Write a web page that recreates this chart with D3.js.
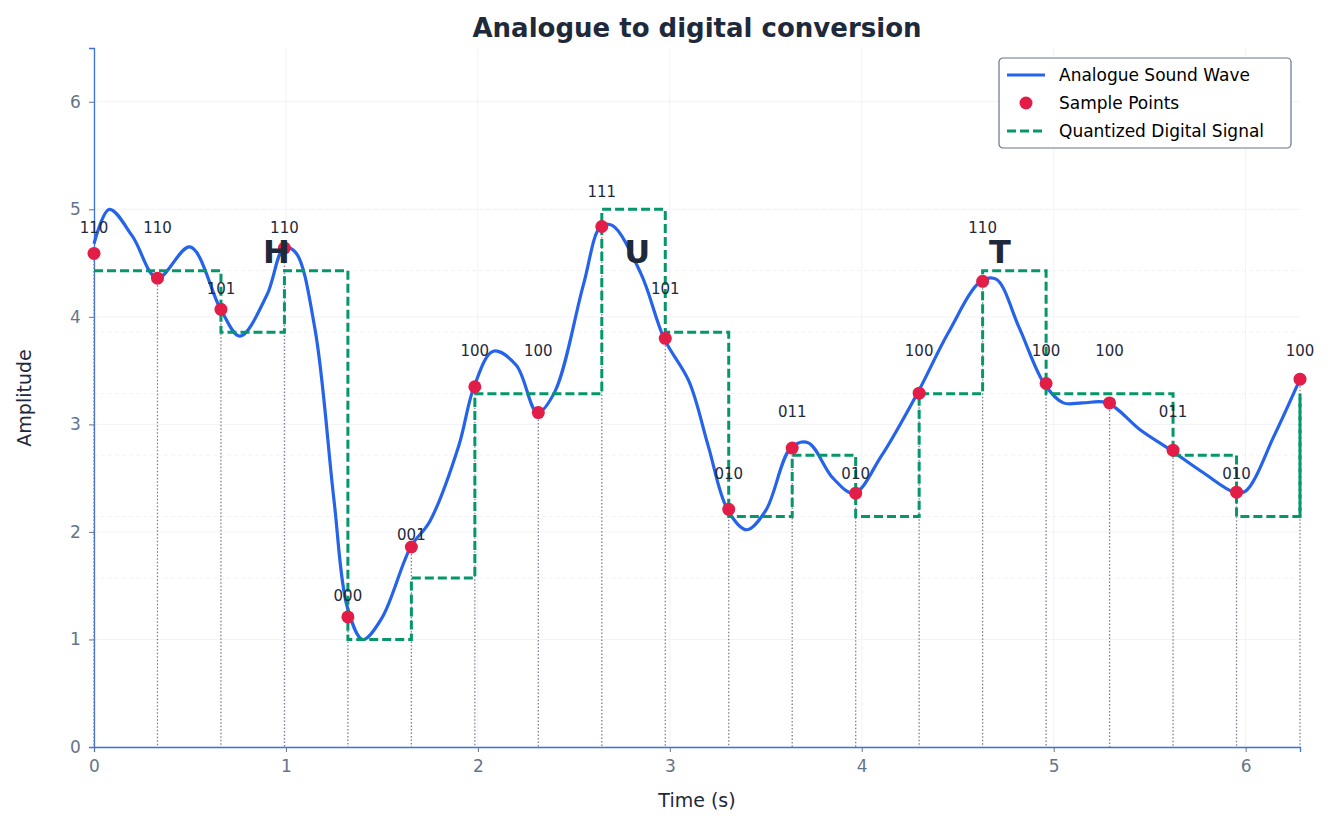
<!DOCTYPE html>
<html><head><meta charset="utf-8">
<script src="https://cdn.jsdelivr.net/npm/d3@7/dist/d3.min.js"></script>
<style>body{margin:0;background:#fff;font-family:"DejaVu Sans",sans-serif}</style>
</head><body><svg id="c" width="1332" height="825"></svg>
<script>
const sampleT = [0,0.3307,0.6614,0.9921,1.3228,1.6535,1.9842,2.3149,2.6456,2.9763,3.3069,3.6376,3.9683,4.299,4.6297,4.9604,5.2911,5.6218,5.9525,6.2832];
const sampleV = [4.59,4.36,4.07,4.64,1.21,1.86,3.35,3.11,4.84,3.80,2.21,2.78,2.36,3.29,4.33,3.38,3.20,2.76,2.37,3.42];
const codes = ["110","110","101","110","000","001","100","100","111","101","010","011","010","100","110","100","100","011","010","100"];
const levels = [1.0,1.571,2.143,2.714,3.286,3.857,4.429,5.0];
const waveT = [0,0.08,0.2,0.33,0.5,0.66,0.76,0.9,0.99,1.05,1.15,1.25,1.32,1.4,1.5,1.65,1.75,1.9,1.98,2.08,2.2,2.31,2.4,2.55,2.64,2.7,2.85,2.97,3.1,3.2,3.3,3.4,3.5,3.63,3.72,3.85,3.96,4.1,4.29,4.45,4.62,4.7,4.82,4.95,5.05,5.15,5.28,5.45,5.61,5.78,5.94,6.0,6.15,6.2832];
const waveV = [4.68,5.0,4.75,4.36,4.65,4.07,3.82,4.2,4.64,4.6,3.9,2.3,1.3,1.0,1.2,1.86,2.1,2.8,3.35,3.68,3.55,3.11,3.3,4.3,4.84,4.85,4.4,3.80,3.4,2.8,2.21,2.02,2.2,2.78,2.83,2.5,2.36,2.7,3.29,3.85,4.33,4.35,3.9,3.38,3.2,3.2,3.20,2.95,2.76,2.55,2.37,2.38,2.9,3.42];
const letters = [{t:0.95,l:"H"},{t:2.83,l:"U"},{t:4.72,l:"T"}];
const xTicks=[0,1,2,3,4,5,6], yTicks=[0,1,2,3,4,5,6];

const svg=d3.select("#c");
const m={l:94,r:32,t:48,b:78};
const W=1332,H=825;
const x=d3.scaleLinear().domain([0,2*Math.PI]).range([m.l,W-m.r]);
const y=d3.scaleLinear().domain([0,6.5]).range([H-m.b,m.t]);

svg.append("g").selectAll("line").data(xTicks).join("line")
 .attr("x1",d=>x(d)).attr("x2",d=>x(d)).attr("y1",y(0)).attr("y2",y(6.5)).attr("stroke","#f1f3f7");
svg.append("g").selectAll("line").data(yTicks).join("line")
 .attr("x1",x(0)).attr("x2",x(2*Math.PI)).attr("y1",d=>y(d)).attr("y2",d=>y(d)).attr("stroke","#f1f3f7");
svg.append("g").selectAll("line").data(levels).join("line")
 .attr("x1",x(0)).attr("x2",x(2*Math.PI)).attr("y1",d=>y(d)).attr("y2",d=>y(d)).attr("stroke","#f1f3f7").attr("stroke-dasharray","4,3");

const xa=svg.append("g").attr("transform",`translate(0,${y(0)})`).call(d3.axisBottom(x).tickValues(xTicks).tickSize(5).tickFormat(d3.format("d")));
const ya=svg.append("g").attr("transform",`translate(${x(0)},0)`).call(d3.axisLeft(y).tickValues(yTicks).tickSize(5).tickFormat(d3.format("d")));
[xa,ya].forEach(a=>{a.select(".domain").attr("stroke","#3b73d9").attr("stroke-width",1.3);
 a.selectAll(".tick line").attr("stroke","#64748b");
 a.selectAll("text").attr("fill","#64748b").attr("font-size",17).attr("font-family","DejaVu Sans");});
xa.selectAll("text").attr("dy","1em");
ya.selectAll("text").attr("dx","-0.3em");

svg.append("g").selectAll("line").data(sampleT).join("line")
 .attr("x1",d=>x(d)).attr("x2",d=>x(d)).attr("y1",(d,i)=>y(sampleV[i])).attr("y2",y(0))
 .attr("stroke","#7c7f96").attr("stroke-width",1.3).attr("stroke-dasharray","1.5,2");

svg.append("path").datum(waveT.map((t,i)=>[t,waveV[i]]))
 .attr("d",d3.line().x(d=>x(d[0])).y(d=>y(d[1])).curve(d3.curveCatmullRom.alpha(0.5)))
 .attr("fill","none").attr("stroke","#2563eb").attr("stroke-width",3.2);

const qv=codes.map(c=>levels[parseInt(c,2)]);
svg.append("path").datum(sampleT.map((t,i)=>[t,qv[i]]))
 .attr("d",d3.line().x(d=>x(d[0])).y(d=>y(d[1])).curve(d3.curveStepAfter))
 .attr("fill","none").attr("stroke","#059669").attr("stroke-width",3).attr("stroke-dasharray","9,4");
svg.append("line").attr("x1",x(sampleT[19])).attr("x2",x(sampleT[19])).attr("y1",y(qv[18])).attr("y2",y(qv[19]))
 .attr("stroke","#059669").attr("stroke-width",3).attr("stroke-dasharray","9,4");

svg.append("g").selectAll("circle").data(sampleT).join("circle")
 .attr("cx",d=>x(d)).attr("cy",(d,i)=>y(sampleV[i])).attr("r",6.5).attr("fill","#e11d48");

svg.append("g").selectAll("text").data(sampleT).join("text")
 .attr("x",d=>x(d)).attr("y",(d,i)=>y(Math.min(qv[i]+0.4,5.16))+5).attr("text-anchor","middle")
 .attr("font-size",15).attr("fill","#1e293b").text((d,i)=>codes[i]);

svg.append("g").selectAll("text").data(letters).join("text")
 .attr("x",d=>x(d.t)).attr("y",y(4.6)+11).attr("text-anchor","middle")
 .attr("font-size",32).attr("font-weight","bold").attr("fill","#1e293b").text(d=>d.l);

svg.append("text").attr("x",697).attr("y",37).attr("text-anchor","middle").attr("font-size",26).attr("font-weight","bold").attr("fill","#1e293b").text("Analogue to digital conversion");
svg.append("text").attr("x",697).attr("y",807).attr("text-anchor","middle").attr("font-size",19).attr("fill","#1e293b").text("Time (s)");
svg.append("text").attr("transform","translate(31,398) rotate(-90)").attr("text-anchor","middle").attr("font-size",19).attr("fill","#1e293b").text("Amplitude");

const lg=svg.append("g").attr("transform","translate(999,58)");
lg.append("rect").attr("width",292).attr("height",90).attr("rx",4).attr("fill","#fff").attr("stroke","#64748b").attr("stroke-width",1.2);
lg.append("line").attr("x1",8).attr("x2",46).attr("y1",17).attr("y2",17).attr("stroke","#2563eb").attr("stroke-width",3.2);
lg.append("circle").attr("cx",27).attr("cy",45).attr("r",6.5).attr("fill","#e11d48");
lg.append("line").attr("x1",8).attr("x2",46).attr("y1",73).attr("y2",73).attr("stroke","#059669").attr("stroke-width",3).attr("stroke-dasharray","9,4");
["Analogue Sound Wave","Sample Points","Quantized Digital Signal"].forEach((t,i)=>
 lg.append("text").attr("x",60).attr("y",23+i*28).attr("font-size",17).attr("fill","#000").text(t));
</script></body></html>
